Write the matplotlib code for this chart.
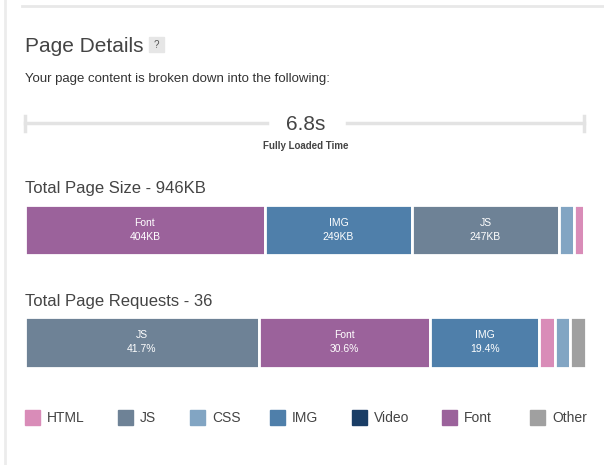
import matplotlib
matplotlib.use("Agg")
import matplotlib.pyplot as plt
from matplotlib.patches import Rectangle

W, H = 604, 465
colors = {"HTML": "#d98cb8", "JS": "#6e8296", "CSS": "#82a5c3", "IMG": "#4f7faa",
          "Video": "#1a3d66", "Font": "#9b629b", "Other": "#a0a0a0"}

size_cats = ["Font", "IMG", "JS", "CSS", "HTML", "Other"]
size_kb = [404, 249, 247, 26, 17, 3]
size_labels = ["404KB", "249KB", "247KB", "", "", ""]

req_cats = ["JS", "Font", "IMG", "HTML", "CSS", "Other"]
req_counts = [15, 11, 7, 1, 1, 1]
req_labels = ["41.7%", "30.6%", "19.4%", "", "", ""]

legend_cats = ["HTML", "JS", "CSS", "IMG", "Video", "Font", "Other"]
legend_x = [25, 118, 190, 270, 352, 442, 530]

fig = plt.figure(figsize=(W/100, H/100), dpi=100)
bg = fig.add_axes([0, 0, 1, 1])
bg.set_xlim(0, W); bg.set_ylim(H, 0); bg.axis("off")
F = "Liberation Sans"
bg.plot([22, W], [6, 6], color="#e8e8e8", lw=2)
bg.plot([5, 5], [0, H], color="#ececec", lw=2)
bg.text(25, 46, "Page Details", fontsize=15, color="#444", family=F, va="center")
bg.add_patch(Rectangle((149, 37), 15, 15, color="#e6e6e6"))
bg.text(156.5, 44.5, "?", fontsize=7, color="#555", family=F, ha="center", va="center")
bg.text(25, 79, "Your page content is broken down into the following:", fontsize=9.5, color="#333", family=F, va="center")
bg.plot([25, 267], [123, 123], color="#e3e3e3", lw=2.5)
bg.plot([347, 584], [123, 123], color="#e3e3e3", lw=2.5)
bg.plot([25, 25], [116, 131], color="#e3e3e3", lw=2.5)
bg.plot([584, 584], [116, 131], color="#e3e3e3", lw=2.5)
bg.text(306, 124, "6.8s", fontsize=15, color="#444", family=F, ha="center", va="center")
bg.text(306, 146, "Fully Loaded Time", fontsize=7, color="#444", family=F, ha="center", va="center", weight="bold")
bg.text(25, 188, "Total Page Size - 946KB", fontsize=12, color="#444", family=F, va="center")
bg.text(25, 301, "Total Page Requests - 36", fontsize=12, color="#444", family=F, va="center")

def stacked(y0, y1, cats, vals, labels):
    ax = fig.add_axes([25/W, 1 - y1/H, 561/W, (y1 - y0)/H])
    ax.set_xlim(0, sum(vals)); ax.set_ylim(0, 1); ax.axis("off")
    left = 0
    for c, v, l in zip(cats, vals, labels):
        ax.barh(0.5, v, left=left, height=1, color=colors[c], edgecolor="white", linewidth=2)
        if l:
            ax.text(left + v/2, 0.5, f"{c}\n{l}", ha="center", va="center", color="white",
                    fontsize=7.5, family=F, linespacing=1.5)
        left += v

stacked(205, 255, size_cats, size_kb, size_labels)
stacked(317, 368, req_cats, req_counts, req_labels)

for c, x in zip(legend_cats, legend_x):
    bg.add_patch(Rectangle((x, 410), 15, 15, color=colors[c]))
    bg.text(x + 22, 418, c, fontsize=10, color="#444", family=F, va="center")

fig.savefig("out.png", dpi=100)
